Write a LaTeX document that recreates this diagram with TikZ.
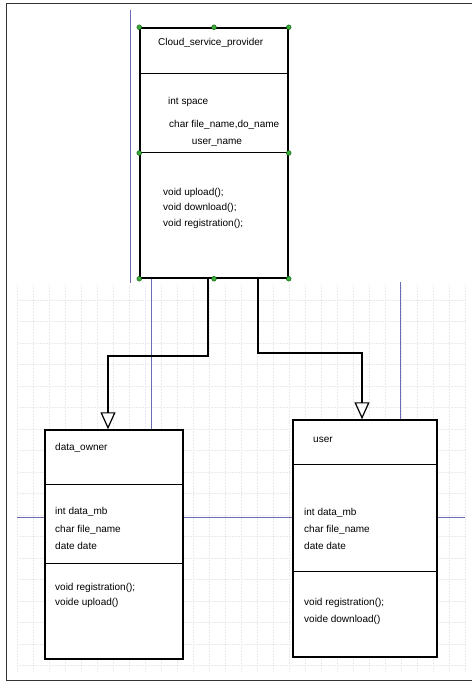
\documentclass[tikz,border=0pt]{standalone}
\usepackage{fontspec}
\setmainfont{Liberation Sans}
\usetikzlibrary{arrows.meta,calc}
\definecolor{GuidePurple}{HTML}{6C6CB4}
\definecolor{HandleGreen}{HTML}{3BAA3B}
\definecolor{GridGray}{HTML}{E8EAEE}
\tikzset{
  classbox/.style={draw=black, line width=1.5pt, fill=white, inner sep=0pt},
  member/.style={anchor=west, inner sep=0pt, align=left,
    font=\fontsize{10}{16}\selectfont},
  divider/.style={line width=1.3pt},
  inherit/.style={-{Triangle[open, length=17pt, width=15pt, line width=1.2pt]},
    line width=1.8pt},
  guide/.style={GuidePurple, line width=0.8pt},
  gridline/.style={GridGray, densely dotted, line width=0.5pt},
  handle/.style={fill=HandleGreen, draw=green!35!black, line width=0.4pt}
}

\begin{document}
\begin{tikzpicture}[x=1pt, y=-1pt]
  \useasboundingbox (0,0) rectangle (472,682);
  % frame of the screenshot
  \draw[line width=1pt, black!80] (472,4) -- (6,4) -- (6,680) -- (472,680);

  % editor grid and guides
  \foreach \gy in {300,321.5,...,670}
    \draw[gridline] (17,\gy) -- (465,\gy);
  \foreach \gx in {17,33,...,465}
    \draw[gridline] (\gx,285) -- (\gx,672);
  \draw[guide] (130,10) -- (130,283);
  \draw[guide] (151,278) -- (151,440);
  \draw[guide] (400,282) -- (400,425);
  \draw[guide] (17,517) -- (465,517);

  % classes
  \node[classbox, minimum width=148pt, minimum height=250pt] (csp) at (214,153) {};
  \node[classbox, minimum width=138pt, minimum height=229pt] (owner) at (114,544.5) {};
  \node[classbox, minimum width=144pt, minimum height=237pt] (user) at (365,538.5) {};

  \draw[divider] ($(csp.north west)+(0,46)$) -- ($(csp.north east)+(0,46)$);
  \draw[divider] ($(csp.north west)+(0,125)$) -- ($(csp.north east)+(0,125)$);
  \draw[divider] ($(owner.north west)+(0,55)$) -- ($(owner.north east)+(0,55)$);
  \draw[divider] ($(owner.north west)+(0,134)$) -- ($(owner.north east)+(0,134)$);
  \draw[divider] ($(user.north west)+(0,45)$) -- ($(user.north east)+(0,45)$);
  \draw[divider] ($(user.north west)+(0,152)$) -- ($(user.north east)+(0,152)$);

  % Cloud_service_provider
  \node[member] (cspname) at (158,43) {Cloud\_service\_provider};
  \node[member] (cspspace) at (168,102) {int space};
  \node[member] (cspchar) at (169,125) {char file\_name,do\_name};
  \node[member, anchor=center] (cspuser) at (217,143) {user\_name};
  \node[member, font=\fontsize{10}{15.5}\selectfont] (cspops) at (163,208)
    {void upload();\\void download();\\void registration();};

  % data_owner
  \node[member] (ownername) at (55,448) {data\_owner};
  \node[member, font=\fontsize{10}{17.5}\selectfont] (ownerattr) at (55,528.5)
    {int data\_mb\\char file\_name\\date date};
  \node[member, font=\fontsize{10}{15}\selectfont] (ownerops) at (55,595.5)
    {void registration();\\voide upload()};

  % user
  \node[member] (username) at (313,440) {user};
  \node[member, font=\fontsize{10}{17}\selectfont] (userattr) at (304,529)
    {int data\_mb\\char file\_name\\date date};
  \node[member, font=\fontsize{10}{17}\selectfont] (userops) at (304,611.5)
    {void registration();\\voide download()};

  % selection handles
  \foreach \a in {north west,north,north east,west,east,south west,south,south east}
    \filldraw[handle] (csp.\a) circle (2.4pt);

  % generalisation
  \coordinate (ownerbend) at (108,356);
  \coordinate (userbend) at (362,353);
  \draw[inherit] ([xshift=-6pt]csp.south) |- (ownerbend) -- (ownerbend |- owner.north);
  \draw[inherit] ([xshift=44pt]csp.south) |- (userbend) -- (userbend |- user.north);
\end{tikzpicture}
\end{document}
